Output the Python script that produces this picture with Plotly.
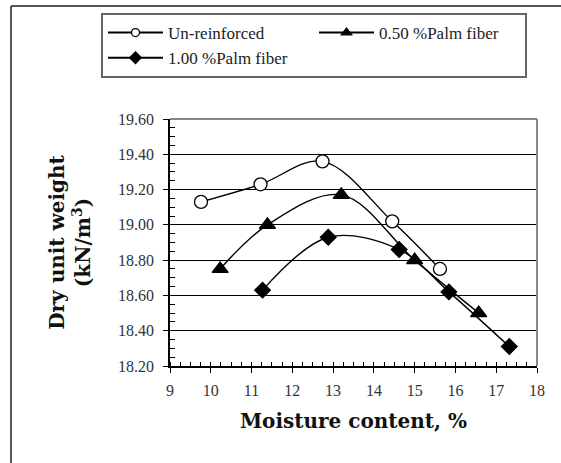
import plotly.graph_objects as go

# ---- data ----
series_names = ["Un-reinforced", "0.50 %Palm fiber", "1.00 %Palm fiber"]
unreinforced_x = [9.76, 11.22, 12.74, 14.45, 15.62]
unreinforced_y = [19.13, 19.23, 19.36, 19.02, 18.75]
palm050_x = [10.23, 11.39, 13.20, 15.00, 16.57]
palm050_y = [18.75, 19.00, 19.17, 18.80, 18.50]
palm100_x = [11.27, 12.88, 14.62, 15.84, 17.32]
palm100_y = [18.63, 18.93, 18.86, 18.62, 18.31]
x_ticks = [9, 10, 11, 12, 13, 14, 15, 16, 17, 18]
y_ticks = [18.20, 18.40, 18.60, 18.80, 19.00, 19.20, 19.40, 19.60]

SERIF = "Liberation Serif, Times New Roman, serif"
WIDE_SERIF = "DejaVu Serif, serif"

styles = [
    dict(symbol="circle", color="white", size=13, lsize=8),
    dict(symbol="triangle-up", color="black", size=14, lsize=9),
    dict(symbol="diamond", color="black", size=12, lsize=9),
]
xs = [unreinforced_x, palm050_x, palm100_x]
ys = [unreinforced_y, palm050_y, palm100_y]

fig = go.Figure()
for name, x, y, st in zip(series_names, xs, ys, styles):
    fig.add_trace(go.Scatter(
        x=x, y=y, mode="lines+markers", name=name, showlegend=False,
        line=dict(color="black", width=1.4, shape="spline", smoothing=1.0),
        marker=dict(symbol=st["symbol"], size=st["size"], color=st["color"],
                    line=dict(color="black", width=1.3)),
    ))
# legend-only entries with smaller markers
for name, st in zip(series_names, styles):
    fig.add_trace(go.Scatter(
        x=[None], y=[None], mode="lines+markers", name=name,
        line=dict(color="black", width=2),
        marker=dict(symbol=st["symbol"], size=st["lsize"], color=st["color"],
                    line=dict(color="black", width=1.3)),
    ))

PW, PH = 367, 247
# outer frame (top and left edges)
fig.add_shape(type="line", xref="paper", yref="paper", x0=-159 / PW, x1=1.2,
              y0=1 + (119 - 6) / PH, y1=1 + (119 - 6) / PH,
              line=dict(color="#555555", width=2))
fig.add_shape(type="line", xref="paper", yref="paper", x0=-159 / PW, x1=-159 / PW,
              y0=-0.5, y1=1 + (119 - 6) / PH,
              line=dict(color="#555555", width=2))

fig.update_layout(
    width=561, height=463,
    margin=dict(l=170, r=24, t=119, b=97),
    paper_bgcolor="white", plot_bgcolor="white",
    font=dict(family=SERIF, color="#222222"),
    showlegend=True,
    legend=dict(
        orientation="h", xref="paper", yref="paper",
        x=(101 - 170) / PW, y=1 + (119 - 13) / PH, xanchor="left", yanchor="top",
        bordercolor="#666666", borderwidth=2, bgcolor="white",
        font=dict(family=SERIF, size=17, color="#222222"),
        itemwidth=55, entrywidth=141, tracegroupgap=0,
    ),
    xaxis=dict(
        range=[9, 18], tickvals=x_ticks, ticktext=[str(t) for t in x_ticks],
        showgrid=False, zeroline=False, showline=True, linecolor="black", linewidth=1.5,
        ticks="outside", ticklen=5, tickwidth=1.2, tickcolor="black",
        minor=dict(dtick=0.25, ticks="inside", ticklen=4, tickcolor="black", tickwidth=1, showgrid=False),
        tickfont=dict(family=SERIF, size=16, color="#333333"),
        ticklabelstandoff=4,
        title=dict(text="<b>Moisture content, %</b>",
                   font=dict(family=WIDE_SERIF, size=20, color="#111111"),
                   standoff=16),
    ),
    yaxis=dict(
        range=[18.2, 19.6], tickvals=y_ticks, ticktext=["%.2f" % v for v in y_ticks],
        showgrid=True, gridcolor="black", gridwidth=1, zeroline=False,
        showline=True, linecolor="black", linewidth=1.5,
        ticks="outside", ticklen=5, tickwidth=1.2, tickcolor="black",
        minor=dict(dtick=0.05, ticks="inside", ticklen=5, tickcolor="black", tickwidth=1, showgrid=False),
        tickfont=dict(family=SERIF, size=16, color="#333333"),
        ticklabelstandoff=6,
        title=dict(text="<b>Dry unit weight<br>(kN/m<sup>3</sup>)</b>",
                   font=dict(family=WIDE_SERIF, size=20, color="#111111"), standoff=22),
    ),
)

# plot area top and right border (gray)
fig.add_shape(type="line", xref="paper", yref="paper", x0=0, x1=1, y0=1, y1=1,
              line=dict(color="#888888", width=2))
fig.add_shape(type="line", xref="paper", yref="paper", x0=1, x1=1, y0=0, y1=1,
              line=dict(color="#888888", width=2))

fig.write_html("out.html")
